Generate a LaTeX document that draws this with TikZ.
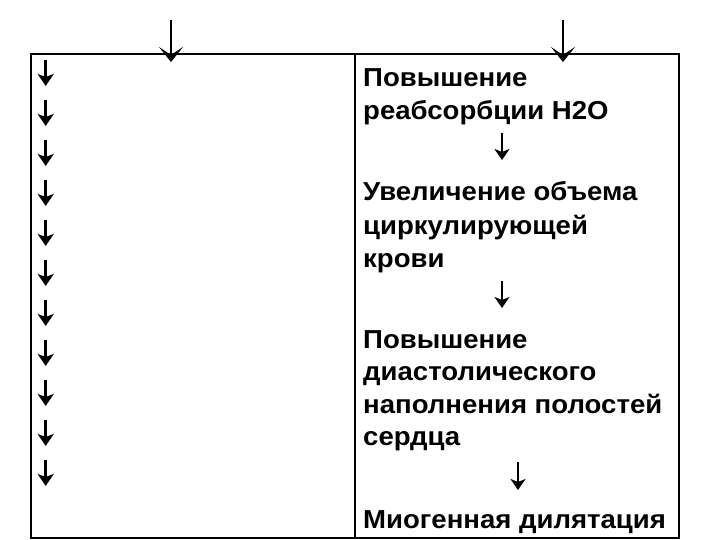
\documentclass[tikz,border=0pt]{standalone}
\usepackage{fontspec}
\setmainfont{Liberation Sans}[FakeStretch=1.06]
\usetikzlibrary{arrows.meta}
\begin{document}
\begin{tikzpicture}[x=1pt,y=-1pt,
  frame/.style={line width=2pt},
  divider/.style={line width=1.2pt},
  toparrow/.style={line width=1.5pt,-{Stealth[length=15pt,width=24pt,inset=8pt]}},
  leftarrow/.style={line width=3pt,-{Stealth[length=12pt,width=16pt,inset=3pt]}},
  rightarrow/.style={line width=2.4pt,-{Stealth[length=11pt,width=15pt,inset=3pt]}},
  txt/.style={anchor=base west,inner sep=0pt,font=\fontsize{26}{32.5}\selectfont\bfseries}]
\useasboundingbox (0,0) rectangle (720,540);
% frame and divider
\coordinate (tl) at (31,54.5);
\coordinate (br) at (679,537.5);
\draw[frame] (tl) rectangle (br);
\coordinate (dtop) at (355,54.5);
\coordinate (dbot) at (355,537.5);
\draw[divider] (dtop) -- (dbot);
% top arrows
\coordinate (ta1) at (171,20);
\coordinate (tb1) at (171,62);
\coordinate (ta2) at (563,20);
\coordinate (tb2) at (563,62);
\draw[toparrow] (ta1) -- (tb1);
\draw[toparrow] (ta2) -- (tb2);
% left column arrows
\foreach \k in {0,...,10}{
  \coordinate (la\k) at (45.7,{60+40*\k});
  \coordinate (lb\k) at (45.7,{86+40*\k});
  \draw[leftarrow] (la\k) -- (lb\k);
}
% right column text
\node[txt] (r1) at (363,87) {Повышение};
\node[txt] (r2) at (363,120) {реабсорбции Н2О};
\node[txt] (r3) at (363,201) {Увеличение объема};
\node[txt] (r4) at (363,234) {циркулирующей};
\node[txt] (r5) at (363,267) {крови};
\node[txt] (r6) at (363,348) {Повышение};
\node[txt] (r7) at (363,380) {диастолического};
\node[txt] (r8) at (363,413) {наполнения полостей};
\node[txt] (r9) at (363,445) {сердца};
\node[txt] (r10) at (363,528) {Миогенная дилятация};
% right column arrows
\coordinate (ra1) at (502,133);
\coordinate (rb1) at (502,160);
\coordinate (ra2) at (502,281);
\coordinate (rb2) at (502,308);
\coordinate (ra3) at (518,462);
\coordinate (rb3) at (518,490);
\draw[rightarrow] (ra1) -- (rb1);
\draw[rightarrow] (ra2) -- (rb2);
\draw[rightarrow] (ra3) -- (rb3);
\end{tikzpicture}
\end{document}
